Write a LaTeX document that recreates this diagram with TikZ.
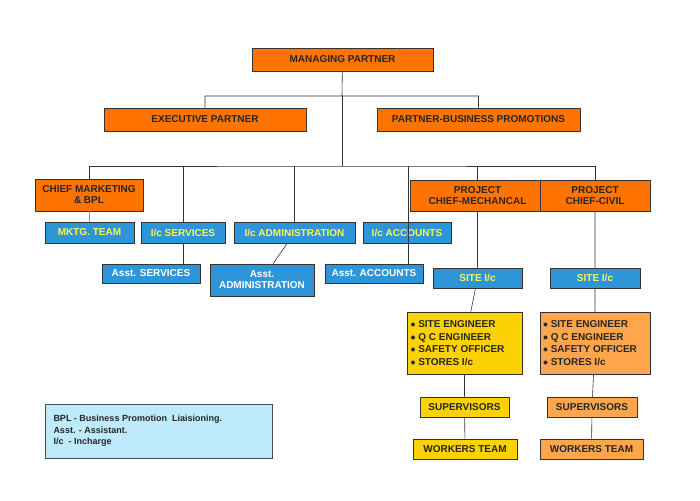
\documentclass[tikz,border=0pt]{standalone}
\usepackage{fontspec}
\setmainfont{Liberation Sans}
\begin{document}
\begin{tikzpicture}[x=1pt,y=-1pt,
  box/.style={draw=black!80,line width=0.6pt,inner sep=1pt,align=center,font=\fontsize{10}{11}\selectfont\bfseries},
  org/.style={box,fill=orange!85!red!95!yellow,text=black!85},
  blu/.style={box,fill=cyan!70!blue!85,text=yellow!70!white},
  asst/.style={box,fill=cyan!70!blue!85,text=white},
  yel/.style={box,fill=yellow!70!orange,text=black!85},
  lor/.style={box,fill=orange!70,text=black!85},
  ln/.style={draw=black!80,line width=0.6pt}]
\useasboundingbox (0,0) rectangle (700,500);
\newcommand{\bx}[7]{\node[#1,minimum width=#4-#3,minimum height=#6-#5] (#2) at ({(#3+#4)/2},{(#5+#6)/2}) {#7};}
\bx{org}{mp}{252}{433}{48}{71}{MANAGING PARTNER}
\bx{org}{ep}{104}{306}{108}{131}{EXECUTIVE PARTNER}
\bx{org}{pbp}{377}{580}{108}{131}{PARTNER-BUSINESS PROMOTIONS}
\bx{org}{cm}{35}{143}{179}{211}{CHIEF MARKETING\\\& BPL}
\bx{org}{pcm}{410}{545}{180}{211}{PROJECT\\CHIEF-MECHANCAL}
\bx{org}{pcc}{540}{650}{180}{211}{PROJECT\\CHIEF-CIVIL}
\bx{blu}{mk}{45}{134}{222}{243}{MKTG. TEAM}
\bx{blu}{sv}{141}{225}{222}{243}{I/c SERVICES}
\bx{blu}{ad}{234}{355}{222}{243}{I/c ADMINISTRATION}
\bx{blu}{ac}{363}{451}{222}{243}{I/c ACCOUNTS}
\bx{asst}{asv}{102}{200}{264}{283}{Asst. SERVICES}
\bx{asst}{aad}{210}{314}{264}{296}{Asst.\\ADMINISTRATION}
\bx{asst}{aac}{325}{423}{264}{283}{Asst. ACCOUNTS}
\bx{blu}{sim}{433}{522}{268}{288}{SITE I/c}
\bx{blu}{sic}{550}{640}{268}{288}{SITE I/c}
\bx{yel}{lm}{407}{522}{312}{374}{\parbox{108pt}{\raggedright\fontsize{10}{12.5}\selectfont $\bullet$ SITE ENGINEER\\$\bullet$ Q C ENGINEER\\$\bullet$ SAFETY OFFICER\\$\bullet$ STORES I/c}}
\bx{lor}{lc}{540}{650}{312}{374}{\parbox{104pt}{\raggedright\fontsize{10}{12.5}\selectfont $\bullet$ SITE ENGINEER\\$\bullet$ Q C ENGINEER\\$\bullet$ SAFETY OFFICER\\$\bullet$ STORES I/c}}
\bx{yel}{spm}{420}{509}{397}{417}{SUPERVISORS}
\bx{lor}{spc}{547}{637}{397}{417}{SUPERVISORS}
\bx{yel}{wm}{413}{517}{439}{459}{WORKERS TEAM}
\bx{lor}{wc}{540}{643}{439}{459}{WORKERS TEAM}
\node[box,fill=cyan!25,draw=black!70,minimum width=227,minimum height=54,font=\fontsize{9}{11.5}\selectfont\bfseries,align=left,text=black!85] (leg) at (158.5,431) {\parbox{210pt}{BPL - Business Promotion\ \ Liaisioning.\\Asst. - Assistant.\\I/c\ \ - Incharge}};
% connectors
\coordinate (j1) at (342,96);
\coordinate (j2) at (342,166);
\draw[ln] (mp) -- (j1) (ep.north) |- (j1) -| (pbp.north);
\draw[ln] (j1) -- (j2);
\draw[ln] (cm.north) |- (j2) -| (pcc.north);
\draw[ln] (sv.north) -- (sv.north|-j2);
\draw[ln] (ad.north) -- (ad.north|-j2);
\draw[ln] (pcm.north) -- (pcm.north|-j2);
\draw[ln] (aac.north-|408,0) -- (408,166);
\draw[draw=black!40,line width=1pt] (cm) -- (cm|-mk.north);
\draw[ln] (sv) -- (sv|-asv.north);
\draw[ln] (ad) -- (aad);
\draw[ln] (pcm) -- (sim) (sim) -- (lm) (lm) -- (spm) (spm) -- (wm);
\draw[ln] (pcc) -- (sic) (sic) -- (lc) (lc) -- (spc) (spc) -- (wc);
\end{tikzpicture}
\end{document}
